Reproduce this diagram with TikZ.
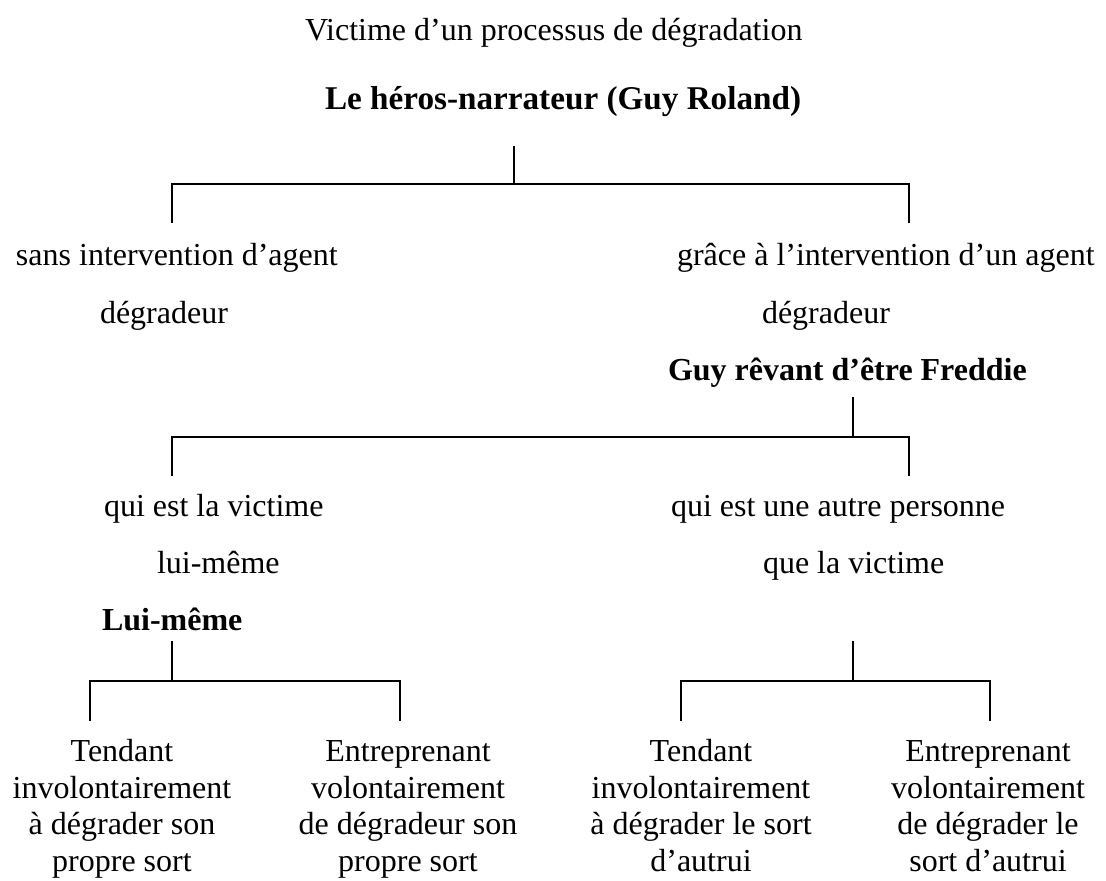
\documentclass[tikz,border=0pt]{standalone}
\usepackage{fontspec}
\setmainfont{Liberation Serif}
\begin{document}
\begin{tikzpicture}[x=0.5pt,y=-0.5pt,
  lbl/.style={inner sep=0pt,outer sep=0pt,anchor=base west,
    font=\fontsize{16}{18.25}\selectfont},
  head/.style={lbl,font=\fontsize{16}{18.25}\selectfont\bfseries},
  leaf/.style={inner sep=0pt,outer sep=0pt,anchor=base,align=center,
    font=\fontsize{16}{18.25}\selectfont},
  branch/.style={line width=0.7pt,line cap=rect}]
\useasboundingbox (0,0) rectangle (1106,881);

% titles
\node[lbl]  (title) at (305,41)  {Victime d’un processus de dégradation};
\node[head,font=\fontsize{16.6}{19}\selectfont\bfseries]
            (hero)  at (325,110) {Le héros-narrateur (Guy Roland)};

% first level
\node[lbl] (sans)  at (16,266)  {sans intervention d’agent};
\node[lbl] (sansb) at (100,324) {dégradeur};
\node[lbl] (grace) at (677,266) {grâce à l’intervention d’un agent};
\node[lbl] (graceb) at (762,324) {dégradeur};
\node[head] (guy)  at (668,380) {Guy rêvant d’être Freddie};

% second level
\node[lbl] (vict)   at (104,516) {qui est la victime};
\node[lbl] (victb)  at (157,573) {lui-même};
\node[lbl] (autre)  at (671,516) {qui est une autre personne};
\node[lbl] (autreb) at (763,573) {que la victime};
\node[head] (lui)   at (102,630) {Lui-même};

% leaves (anchored on the baseline of their last line)
\node[leaf] (l1) at (122,871) {Tendant\\involontairement\\à dégrader son\\propre sort};
\node[leaf] (l2) at (408,871) {Entreprenant\\volontairement\\de dégradeur son\\propre sort};
\node[leaf] (l3) at (701,871) {Tendant\\involontairement\\à dégrader le sort\\d’autrui};
\node[leaf] (l4) at (988,871) {Entreprenant\\volontairement\\de dégrader le\\sort d’autrui};

% bracket junctions
\coordinate (a0) at (514,147);
\coordinate (a1) at (514,184);
\coordinate (aL) at (172,184);
\coordinate (aR) at (909,184);
\coordinate (aLe) at (172,222);
\coordinate (aRe) at (909,222);

\coordinate (b0) at (853,398);
\coordinate (b1) at (853,437);
\coordinate (bL) at (172,437);
\coordinate (bR) at (909,437);
\coordinate (bLe) at (172,475);
\coordinate (bRe) at (909,475);

\coordinate (c0) at (172,642);
\coordinate (c1) at (172,681);
\coordinate (cL) at (90,681);
\coordinate (cR) at (400,681);
\coordinate (cLe) at (90,720);
\coordinate (cRe) at (400,720);

\coordinate (d0) at (853,642);
\coordinate (d1) at (853,681);
\coordinate (dL) at (681,681);
\coordinate (dR) at (990,681);
\coordinate (dLe) at (681,720);
\coordinate (dRe) at (990,720);

\draw[branch] (a0) -- (a1);
\draw[branch] (aLe) -- (aL) -- (aR) -- (aRe);
\draw[branch] (b0) -- (b1);
\draw[branch] (bLe) -- (bL) -- (bR) -- (bRe);
\draw[branch] (c0) -- (c1);
\draw[branch] (cLe) -- (cL) -- (cR) -- (cRe);
\draw[branch] (d0) -- (d1);
\draw[branch] (dLe) -- (dL) -- (dR) -- (dRe);
\end{tikzpicture}
\end{document}
